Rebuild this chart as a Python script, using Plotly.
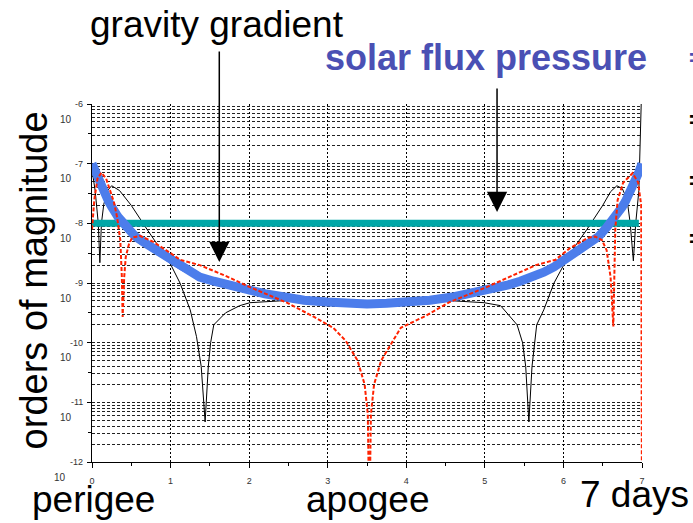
import plotly.graph_objects as go
import numpy as np

# ---------------- data (y values are orders of magnitude, log10) ----------------
gg_days = [0.0, 0.04, 0.08, 0.12, 0.165, 0.21, 0.25, 0.33, 0.45, 0.55, 0.65, 0.76, 0.88, 1.0, 1.12, 1.25, 1.37, 1.55, 1.7,
           1.85, 2.01, 2.2, 2.39, 2.7, 2.99, 3.25, 3.5, 3.75,
           4.0, 4.3, 4.61, 4.8, 4.99, 5.15, 5.3, 5.45, 5.63, 5.75, 5.88, 6.0, 6.12, 6.24, 6.35, 6.45, 6.55, 6.67, 6.75,
           6.79, 6.835, 6.88, 6.92, 6.96, 7.0]
gg_thick = [-7.0, -7.14, -7.27, -7.40, -7.52, -7.63, -7.72, -7.89, -8.07, -8.22, -8.31, -8.40, -8.51, -8.62, -8.73, -8.82,
            -8.90, -8.97, -9.03, -9.08, -9.12, -9.18, -9.23, -9.29, -9.32, -9.34, -9.35, -9.34,
            -9.32, -9.29, -9.23, -9.18, -9.12, -9.08, -9.03, -8.97, -8.90, -8.82, -8.73, -8.62, -8.51, -8.40, -8.31,
            -8.22, -8.07, -7.89, -7.72, -7.63, -7.52, -7.40, -7.27, -7.14, -7.0]
gg_thin = [-7.0, -7.15, -7.29, -7.43, -7.56, -7.67, -7.77, -7.94, -8.12, -8.27, -8.36, -8.45, -8.56, -8.67, -8.77, -8.86,
           -8.93, -8.99, -9.05, -9.09, -9.13, -9.19, -9.23, -9.29, -9.32, -9.34, -9.35, -9.34,
           -9.32, -9.29, -9.24, -9.19, -9.14, -9.10, -9.06, -9.00, -8.94, -8.86, -8.78, -8.68, -8.57, -8.46, -8.37,
           -8.28, -8.12, -7.94, -7.77, -7.67, -7.55, -7.42, -7.28, -7.14, -7.0]

black_days = [0.0, 0.04, 0.08, 0.1, 0.12, 0.15, 0.2, 0.25, 0.35, 0.5, 0.7, 0.85, 0.99, 1.12, 1.25, 1.33, 1.39, 1.44,
              1.48, 1.51, 1.55, 1.7, 1.88, 2.01, 2.39, 3.0, 3.5, 4.0, 4.61, 4.99, 5.2, 5.41, 5.48, 5.52, 5.56,
              5.6, 5.63, 5.66, 5.75, 5.88, 6.04, 6.15, 6.3, 6.4, 6.5, 6.6, 6.68, 6.75, 6.81, 6.85, 6.89, 6.92,
              6.96, 7.0]
black_log = [-7.1, -7.45, -8.0, -8.66, -8.0, -7.68, -7.45, -7.37, -7.45, -7.7, -8.1, -8.38, -8.66, -9.0, -9.45, -9.9, -10.4, -11.33,
             -10.4, -10.0, -9.7, -9.5, -9.38, -9.33, -9.30, -9.29, -9.29, -9.29, -9.30, -9.33, -9.38, -9.7, -10.0, -10.4, -11.33,
             -10.4, -10.0, -9.7, -9.45, -9.0, -8.61, -8.38, -8.1, -7.9, -7.7, -7.47, -7.37, -7.42, -7.6, -8.0, -8.63, -8.0,
             -7.45, -5.5]

red_days = [0.0, 0.03, 0.07, 0.12, 0.18, 0.23, 0.28, 0.32, 0.36, 0.38, 0.39, 0.41, 0.43, 0.47, 0.51, 0.61, 0.78, 1.0,
            1.12, 1.37, 1.7, 2.01, 2.48, 2.8, 3.07, 3.23, 3.38, 3.47, 3.51, 3.53, 3.55, 3.59, 3.68, 3.83, 3.93,
            4.25, 4.55, 5.02, 5.35, 5.65, 5.9, 6.08, 6.22, 6.32, 6.4, 6.49, 6.55, 6.6, 6.635, 6.645, 6.66, 6.69,
            6.76, 6.88, 6.95, 6.99, 7.0]
red_log = [-8.1, -7.6, -7.25, -7.15, -7.25, -7.44, -7.65, -7.9, -8.28, -8.9, -9.57, -8.9, -8.56, -8.35, -8.24, -8.21, -8.31, -8.5,
           -8.61, -8.70, -8.88, -9.07, -9.33, -9.55, -9.75, -9.97, -10.3, -10.7, -11.2, -13.0, -11.2, -10.7, -10.3, -9.97, -9.75,
           -9.55, -9.32, -9.07, -8.88, -8.70, -8.61, -8.42, -8.31, -8.24, -8.22, -8.28, -8.45, -8.9, -9.73, -8.8, -8.1, -7.61,
           -7.32, -7.16, -7.31, -7.7, -13.0]

solar_days = [0.0, 6.96]
solar_log = [-8.0, -8.0]

x_ticks = [0, 1, 2, 3, 4, 5, 6, 7]
x_tick_labels = ["0", "1", "2", "3", "4", "5", "6", "7"]
y_exponents = [-12, -11, -10, -9, -8, -7, -6]

# ---------------- figure ----------------
FONT = "Liberation Sans, Arial, Helvetica, sans-serif"
fig = go.Figure()

fig.add_trace(go.Scatter(x=black_days, y=black_log, mode="lines",
                         line=dict(color="#000000", width=1), showlegend=False, hoverinfo="skip"))
fig.add_trace(go.Scatter(x=solar_days, y=solar_log, mode="lines",
                         line=dict(color="#00A7A7", width=7), showlegend=False, hoverinfo="skip"))
fig.add_trace(go.Scatter(x=gg_days, y=gg_thin, mode="lines",
                         line=dict(color="#2236E0", width=1.2), showlegend=False, hoverinfo="skip"))
fig.add_trace(go.Scatter(x=gg_days, y=gg_thick, mode="lines",
                         line=dict(color="#4C7DEB", width=9), showlegend=False, hoverinfo="skip"))
fig.add_trace(go.Scatter(x=red_days, y=red_log, mode="lines",
                         line=dict(color="#FF2200", width=2, dash="4px,2px"), showlegend=False, hoverinfo="skip"))
# carrier for half-decade tick marks
fig.add_trace(go.Scatter(x=[None], y=[None], yaxis="y2", showlegend=False, hoverinfo="skip"))

minor_y = [n + np.log10(k) for n in range(-12, -6) for k in range(2, 10)]
half_y = [n + 0.5 for n in range(-12, -6)]

fig.update_layout(
    width=693, height=523,
    margin=dict(l=92, r=51, t=104, b=61),
    paper_bgcolor="white", plot_bgcolor="white",
    font=dict(family=FONT, color="#000"),
    xaxis=dict(range=[0, 7], tickmode="array", tickvals=x_ticks, ticktext=x_tick_labels,
               showline=True, linecolor="#000", linewidth=1, mirror=False,
               ticks="outside", ticklen=5, tickcolor="#000", tickwidth=1,
               tickfont=dict(size=9, color="#333"), ticklabelstandoff=5,
               showgrid=True, gridcolor="#000", gridwidth=1, griddash="2px,2px", zeroline=False,
               minor=dict(dtick=0.5, tick0=0, ticks="outside", ticklen=3, tickcolor="#000", showgrid=False)),
    yaxis=dict(range=[-12, -6], tickmode="array", tickvals=y_exponents, showticklabels=False,
               showline=True, linecolor="#000", linewidth=1,
               ticks="outside", ticklen=4, tickcolor="#000", tickwidth=1,
               showgrid=True, gridcolor="#222", gridwidth=1, griddash="3px,2px", zeroline=False,
               minor=dict(tickmode="array", tickvals=minor_y, ticks="", showgrid=True,
                          gridcolor="#222", gridwidth=1, griddash="3px,2px")),
    yaxis2=dict(range=[-12, -6], overlaying="y", side="left", tickmode="array", tickvals=half_y,
                showticklabels=False, ticks="outside", ticklen=3, tickcolor="#000",
                showgrid=False, zeroline=False, showline=False),
)

ann = []
for n in y_exponents:
    ann.append(dict(xref="paper", yref="y", x=0, y=n, xanchor="right", yanchor="middle",
                    xshift=-7, text=str(n), showarrow=False, font=dict(size=9, color="#333")))
    ann.append(dict(xref="paper", yref="y", x=0, y=n, xanchor="right", yanchor="middle",
                    xshift=-18 if n != -12 else -24, yshift=-15, text="10", showarrow=False,
                    font=dict(size=10, color="#333")))

big = dict(showarrow=False, xanchor="center", yanchor="middle")
ann += [
    dict(xref="paper", yref="paper", x=-0.105, y=0.508, text="orders of magnitude", textangle=-90,
         font=dict(size=38, color="#000"), **big),
    dict(xref="paper", yref="paper", x=0.227, y=1.223, text="gravity gradient",
         font=dict(size=37, color="#000"), **big),
    dict(xref="paper", yref="paper", x=0.716, y=1.131, text="<b>solar flux pressure</b>",
         font=dict(size=36, color="#4A50B4"), **big),
    dict(xref="paper", yref="paper", x=0.003, y=-0.106, text="perigee",
         font=dict(size=37, color="#000"), **big),
    dict(xref="paper", yref="paper", x=0.5, y=-0.106, text="apogee",
         font=dict(size=37, color="#000"), **big),
    dict(xref="paper", yref="paper", x=0.987, y=-0.092, text="7 days",
         font=dict(size=37, color="#000"), **big),
    # arrows
    dict(xref="x", yref="y", x=1.62, y=-8.65, ax=0, ay=-212, text="", showarrow=True,
         arrowhead=2, arrowsize=2.7, arrowwidth=1.5, arrowcolor="#000"),
    dict(xref="x", yref="y", x=5.155, y=-7.81, ax=0, ay=-125, text="", showarrow=True,
         arrowhead=2, arrowsize=2.7, arrowwidth=1.5, arrowcolor="#000"),
    # clipped slide bullets at the right edge
    dict(xref="paper", yref="paper", x=1.081, y=1.13, xanchor="left", yanchor="middle", text="<b>=</b>",
         showarrow=False, font=dict(size=24, color="#4A50B4")),
    dict(xref="paper", yref="paper", x=1.081, y=0.958, xanchor="left", yanchor="middle", text="<b>=</b>",
         showarrow=False, font=dict(size=24, color="#000")),
    dict(xref="paper", yref="paper", x=1.081, y=0.785, xanchor="left", yanchor="middle", text="<b>=</b>",
         showarrow=False, font=dict(size=24, color="#000")),
    dict(xref="paper", yref="paper", x=1.081, y=0.623, xanchor="left", yanchor="middle", text="<b>=</b>",
         showarrow=False, font=dict(size=24, color="#000")),
]
fig.update_layout(annotations=ann)

fig.write_html("out.html", config={"displayModeBar": False},
               post_script="document.body.style.margin='0px';document.body.style.overflow='hidden';")
